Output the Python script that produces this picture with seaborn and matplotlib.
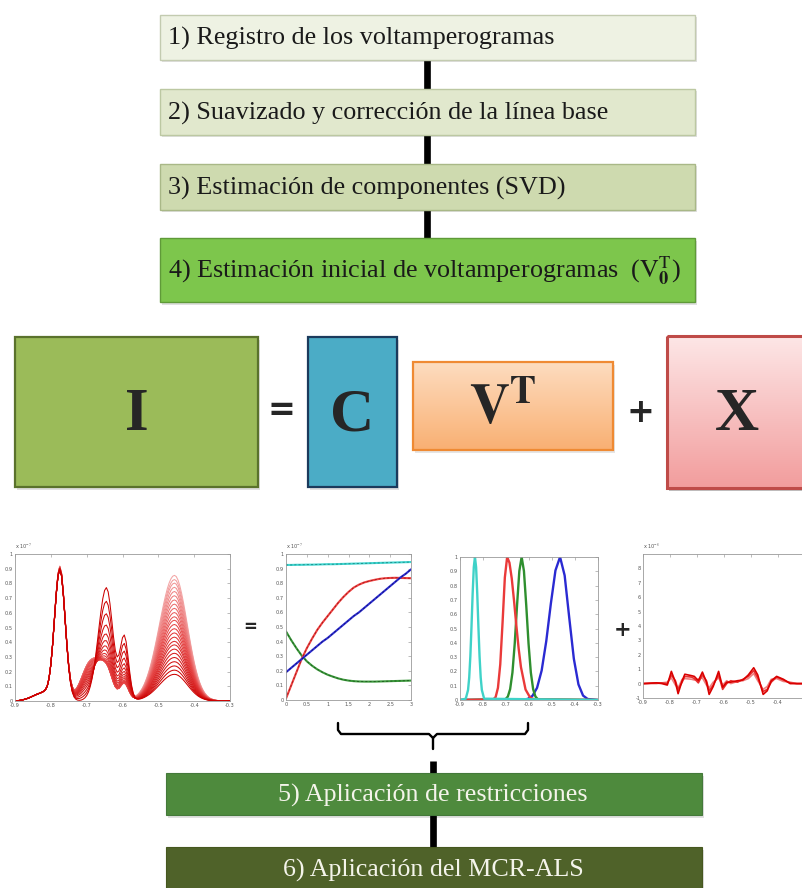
import numpy as np
import pandas as pd
import matplotlib
matplotlib.use("Agg")
import matplotlib.pyplot as plt
import seaborn as sns
from matplotlib.patches import Rectangle
from matplotlib.colors import to_rgb

sns.set_style("white")
plt.rcParams['font.family'] = ['Liberation Serif', 'DejaVu Serif']
plt.rcParams['mathtext.fontset'] = 'stix'

# ---------------- data ----------------
step_labels = ["1) Registro de los voltamperogramas",
               "2) Suavizado y corrección de la línea base",
               "3) Estimación de componentes (SVD)",
               "4) Estimación inicial de voltamperogramas  (" + r"$\mathrm{V}_{\mathbf{0}}^{\mathrm{T}}$" + ")"]
final_labels = ["5) Aplicación de restricciones", "6) Aplicación del MCR-ALS"]
eq_labels = ["I", "C", r"$\mathbf{V}^{\mathbf{T}}$", "X"]

# concentration profiles (matrix C)
times = [0.0, 0.125, 0.25, 0.375, 0.5, 0.625, 0.75, 0.875, 1.0, 1.125, 1.25, 1.375, 1.5,
         1.625, 1.75, 1.875, 2.0, 2.125, 2.25, 2.375, 2.5, 2.625, 2.75, 2.875, 3.0]
conc_cyan = [0.925, 0.925, 0.926, 0.926, 0.927, 0.927, 0.928, 0.929, 0.930, 0.930, 0.931, 0.932, 0.933,
             0.934, 0.935, 0.936, 0.937, 0.938, 0.939, 0.940, 0.941, 0.942, 0.943, 0.944, 0.945]
conc_red = [0.01, 0.10, 0.19, 0.28, 0.355, 0.42, 0.48, 0.53, 0.575, 0.62, 0.665, 0.705, 0.74,
            0.77, 0.79, 0.805, 0.815, 0.823, 0.83, 0.834, 0.836, 0.837, 0.836, 0.835, 0.834]
conc_blue = [0.19, 0.22, 0.25, 0.28, 0.31, 0.34, 0.37, 0.40, 0.425, 0.455, 0.485, 0.515, 0.545,
             0.575, 0.60, 0.63, 0.66, 0.69, 0.72, 0.75, 0.78, 0.81, 0.84, 0.865, 0.895]
conc_green = [0.47, 0.41, 0.355, 0.305, 0.265, 0.235, 0.21, 0.19, 0.173, 0.16, 0.148, 0.139, 0.133,
              0.129, 0.127, 0.126, 0.126, 0.126, 0.127, 0.128, 0.129, 0.13, 0.131, 0.132, 0.133]

# component voltammograms of the raw-data panel (potential grid -0.900 ... -0.300, step 0.005)
pot_grid = np.round(np.linspace(-0.9, -0.3, 121), 3)
sig_cyan = [0.0, 0.001, 0.003, 0.005, 0.008, 0.011, 0.015, 0.019, 0.024, 0.030, 0.036, 0.042, 0.048,
            0.053, 0.058, 0.064, 0.071, 0.083, 0.109, 0.166, 0.267, 0.414, 0.596, 0.780, 0.918, 0.970,
            0.918, 0.777, 0.588, 0.399, 0.242, 0.131, 0.064, 0.028, 0.011, 0.004, 0.001] + [0.0] * 84
sig_green = [0.0] * 34 + [0.001, 0.002, 0.005, 0.010, 0.021, 0.040, 0.072, 0.124, 0.202, 0.314, 0.463,
                          0.647, 0.860, 1.085, 1.300, 1.479, 1.598, 1.640, 1.579, 1.409, 1.172, 0.924,
                          0.730, 0.637, 0.669, 0.789, 0.916, 0.954, 0.859, 0.656, 0.423, 0.229, 0.105,
                          0.040, 0.013, 0.004, 0.001] + [0.0] * 50
sig_red = [0.0] * 25 + [0.001, 0.002, 0.003, 0.006, 0.010, 0.017, 0.027, 0.041, 0.059, 0.083, 0.113,
                        0.146, 0.182, 0.218, 0.250, 0.277, 0.294, 0.300, 0.294, 0.277, 0.250, 0.218,
                        0.182, 0.146, 0.113, 0.083, 0.059, 0.041, 0.027, 0.017, 0.010, 0.006, 0.003,
                        0.002, 0.001] + [0.0] * 61
sig_blue = [0.0] * 59 + [0.002, 0.002, 0.004, 0.005, 0.008, 0.011, 0.016, 0.022, 0.031, 0.042, 0.056,
                         0.074, 0.096, 0.123, 0.156, 0.194, 0.238, 0.288, 0.344, 0.405, 0.470, 0.538,
                         0.607, 0.675, 0.740, 0.800, 0.853, 0.896, 0.928, 0.948, 0.955, 0.946, 0.919,
                         0.876, 0.818, 0.750, 0.675, 0.595, 0.515, 0.437, 0.364, 0.297, 0.238, 0.187,
                         0.144, 0.109, 0.081, 0.059, 0.042, 0.029, 0.020, 0.014, 0.009, 0.006, 0.004,
                         0.002, 0.001, 0.0, 0.0, 0.0, 0.0, 0.0]

# estimated normalised voltammograms (matrix V^T)
vt_cyan_x = [-0.9, -0.875, -0.865, -0.86, -0.855, -0.85, -0.845, -0.84, -0.835, -0.83, -0.825, -0.82,
             -0.815, -0.81, -0.805, -0.795, -0.3]
vt_cyan_y = [0, 0.009, 0.07, 0.157, 0.306, 0.514, 0.744, 0.929, 1.0, 0.929, 0.744, 0.514, 0.306, 0.157,
             0.07, 0.009, 0]
vt_red_x = [-0.9, -0.755, -0.745, -0.735, -0.725, -0.715, -0.705, -0.695, -0.685, -0.675, -0.665, -0.655,
            -0.645, -0.635, -0.615, -0.595, -0.575, -0.3]
vt_red_y = [0, 0.004, 0.021, 0.085, 0.249, 0.54, 0.857, 1.0, 0.96, 0.85, 0.693, 0.52, 0.36, 0.23, 0.073,
            0.017, 0.003, 0]
vt_green_x = [-0.9, -0.702, -0.692, -0.682, -0.672, -0.662, -0.652, -0.642, -0.632, -0.622, -0.612, -0.602,
              -0.592, -0.582, -0.572, -0.562, -0.3]
vt_green_y = [0, 0.006, 0.024, 0.076, 0.192, 0.395, 0.662, 0.902, 1.0, 0.902, 0.662, 0.395, 0.192, 0.076,
              0.024, 0.006, 0]
vt_blue_x = [-0.9, -0.625, -0.605, -0.585, -0.565, -0.545, -0.525, -0.505, -0.485, -0.465, -0.445, -0.425,
             -0.405, -0.385, -0.365, -0.345, -0.3]
vt_blue_y = [0, 0.002, 0.008, 0.029, 0.085, 0.206, 0.411, 0.674, 0.906, 1.0, 0.871, 0.575, 0.288, 0.109,
             0.031, 0.007, 0]

# residuals (matrix X, x 1e-8)
res_x = [-0.90, -0.85, -0.83, -0.81, -0.795, -0.78, -0.77, -0.755, -0.745, -0.72, -0.71, -0.695, -0.68,
         -0.665, -0.655, -0.64, -0.62, -0.605, -0.59, -0.575, -0.55, -0.53, -0.51, -0.49, -0.475, -0.455,
         -0.44, -0.425, -0.405, -0.38, -0.355, -0.33, -0.30]
res_a = [0.0, 0.05, 0.0, -0.1, 0.85, 0.1, -0.7, 0.2, 0.65, 0.55, 0.5, 0.2, 0.8, 0.1, -0.75, -0.2, 0.85,
         -0.25, 0.1, 0.1, 0.2, 0.25, 0.6, 1.1, 0.6, -0.75, -0.5, 0.2, 0.5, 0.3, 0.0, 0.0, 0.0]
res_b = [0.0, 0.05, 0.05, 0.0, 0.6, 0.2, -0.4, 0.1, 0.5, 0.45, 0.35, 0.05, 0.6, 0.2, -0.5, -0.1, 0.6,
         -0.4, 0.0, 0.2, 0.1, 0.3, 0.5, 0.9, 0.4, -0.55, -0.4, 0.1, 0.45, 0.25, 0.05, 0.0, 0.0]
res_c = [0.0, 0.0, 0.05, 0.1, 0.4, -0.1, -0.3, 0.3, 0.35, 0.3, 0.25, 0.3, 0.4, -0.1, -0.3, 0.1, 0.4,
         -0.1, 0.2, 0.0, 0.15, 0.2, 0.35, 0.7, 0.2, -0.4, -0.2, 0.3, 0.35, 0.15, 0.1, 0.0, 0.0]

pot_ticks = [-0.9, -0.8, -0.7, -0.6, -0.5, -0.4, -0.3]
pot_ticklabels = ["-0.9", "-0.8", "-0.7", "-0.6", "-0.5", "-0.4", "-0.3"]
frac_ticks = [0, 0.1, 0.2, 0.3, 0.4, 0.5, 0.6, 0.7, 0.8, 0.9, 1.0]
frac_ticklabels = ["0", "0.1", "0.2", "0.3", "0.4", "0.5", "0.6", "0.7", "0.8", "0.9", "1"]
time_ticks = [0, 0.5, 1, 1.5, 2, 2.5, 3]
time_ticklabels = ["0", "0.5", "1", "1.5", "2", "2.5", "3"]
res_ticks = [-1, 0, 1, 2, 3, 4, 5, 6, 7, 8]

# ---------------- figure ----------------
W, H = 802, 888
fig = plt.figure(figsize=(W / 100, H / 100), dpi=100, facecolor='white')
ax0 = fig.add_axes([0, 0, 1, 1])
ax0.axis('off')
renderer = fig.canvas.get_renderer()


def box(x0, y0, x1, y1, fc, ec, lw=1.0, shadow=0.15, z=3):
    if shadow:
        ax0.add_patch(Rectangle((x0 + 2, y0 + 2.5), x1 - x0, y1 - y0, fc='black', alpha=shadow,
                                ec='none', zorder=z - 0.5))
    ax0.add_patch(Rectangle((x0, y0), x1 - x0, y1 - y0, fc=fc, ec=ec, lw=lw, zorder=z))


def grad_box(x0, y0, x1, y1, c_top, c_bot, ec, lw, shadow=0.15, z=3):
    if shadow:
        ax0.add_patch(Rectangle((x0 + 2, y0 + 3), x1 - x0, y1 - y0, fc='black', alpha=shadow,
                                ec='none', zorder=z - 0.5))
    t = np.linspace(0, 1, 64)[:, None, None]
    img = np.array(to_rgb(c_top))[None, None, :] * (1 - t) + np.array(to_rgb(c_bot))[None, None, :] * t
    img = np.repeat(img, 2, axis=1)
    ax0.imshow(img, extent=[x0, x1, y1, y0], aspect='auto', zorder=z, interpolation='bilinear')
    ax0.add_patch(Rectangle((x0, y0), x1 - x0, y1 - y0, fill=False, ec=ec, lw=lw, zorder=z + 0.1))


def fit_size(txt, target_w, base=16, **kw):
    t = ax0.text(0, 0, txt, fontsize=base, **kw)
    w = t.get_window_extent(renderer).width
    t.remove()
    return base * target_w / w


# connectors (top)
for ya, yb in [(60, 89), (135, 164), (210, 238)]:
    ax0.plot([427, 427], [ya, yb], color='black', lw=4.8, solid_capstyle='butt', zorder=1)

step_y = [(15, 60), (89, 135), (164, 210), (238, 302)]
step_fc = ['#eef2e3', '#e1e8cd', '#cedaaf', '#7dc64c']
step_ec = ['#c3cbb0', '#bcc8a2', '#a9b887', '#5f9a38']
fs_step = fit_size(step_labels[1], 442)
for (ya, yb), lab, fc, ec in zip(step_y, step_labels, step_fc, step_ec):
    box(160, ya, 695, yb, fc, ec, lw=1.0, shadow=0.12)
    ax0.text(168, (ya + yb) / 2 + 1, lab, fontsize=fs_step, color='#1a1a1a', va='center', ha='left', zorder=5)

# equation row
box(15, 337, 258, 487, '#9bbb59', '#5a722c', lw=1.6, shadow=0.12)
box(308, 337, 397, 487, '#4bacc6', '#1b3a5c', lw=1.6, shadow=0.12)
grad_box(413, 362, 613, 450, '#fddcbf', '#f9b073', '#ef8a33', 1.6, shadow=0.10)
grad_box(667, 336, 815, 488, '#fde6e6', '#f29d9d', '#bf4b48', 2.2, shadow=0.25)

eq_fs = 44
ax0.text(136.5, 415, eq_labels[0], fontsize=eq_fs, fontweight='bold', ha='center', va='center', zorder=6)
ax0.text(352.5, 415, eq_labels[1], fontsize=eq_fs, fontweight='bold', ha='center', va='center', zorder=6)
ax0.text(503, 410, eq_labels[2], fontsize=40, ha='center', va='center', zorder=6)
ax0.text(737, 415, eq_labels[3], fontsize=eq_fs, fontweight='bold', ha='center', va='center', zorder=6)
ax0.text(281, 410, "=", fontsize=24, fontweight='bold', family='DejaVu Sans', ha='center', va='center', zorder=6)
ax0.text(640, 412, "+", fontsize=24, fontweight='bold', family='DejaVu Sans', ha='center', va='center', zorder=6)

# symbols between small plots
ax0.text(250, 627, "=", fontsize=12, fontweight='bold', family='DejaVu Sans', ha='center', va='center', zorder=6)
ax0.text(623, 630, "+", fontsize=15, fontweight='bold', family='DejaVu Sans', ha='center', va='center', zorder=6)

# brace
bk = dict(color='black', lw=1.7, solid_capstyle='round', solid_joinstyle='round', zorder=4)
ax0.plot([338, 338, 341, 429, 433, 433], [723, 730, 734, 734, 738, 749], **bk)
ax0.plot([528, 528, 525, 437, 433], [723, 730, 734, 734, 738], **bk)
ax0.plot([433, 433], [761, 773], color='black', lw=4.8, solid_capstyle='butt', zorder=1)
ax0.plot([433, 433], [815, 847], color='black', lw=4.8, solid_capstyle='butt', zorder=1)

fs_fin = fit_size(final_labels[0], 310)
box(166, 773, 702, 815, '#4e8a3d', '#44793a', lw=0.8, shadow=0.12)
box(166, 847, 702, 900, '#4f6229', '#46571f', lw=0.8, shadow=0.12)
ax0.text(433, 795, final_labels[0], fontsize=fs_fin, color='#f4f4ea', ha='center', va='center', zorder=6)
ax0.text(433, 870, final_labels[1], fontsize=fs_fin, color='#f4f4ea', ha='center', va='center', zorder=6)

ax0.set_xlim(0, W)
ax0.set_ylim(H, 0)


# ---------------- small plots ----------------
def px_axes(l, t, r, b):
    return fig.add_axes([l / W, 1 - b / H, (r - l) / W, (b - t) / H])


def style(ax, xt, xtl, yt, ytl, mult):
    ax.set_facecolor('white')
    for s in ax.spines.values():
        s.set_color('#9a9a9a')
        s.set_linewidth(0.6)
    ax.set_xticks(xt)
    ax.set_xticklabels(xtl)
    ax.set_yticks(yt)
    ax.set_yticklabels(ytl)
    ax.tick_params(direction='in', length=2, width=0.4, labelsize=3.6, colors='#8a8a8a',
                   labelcolor='#555555', top=True, right=True, pad=1.5)
    for lab in ax.get_xticklabels() + ax.get_yticklabels():
        lab.set_family('DejaVu Sans')
    ax.set_xlabel('')
    ax.set_ylabel('')
    if mult:
        ax.text(0.0, 1.012, mult, transform=ax.transAxes, fontsize=3.6, color='#555555',
                family='DejaVu Sans', va='bottom')


# panel 1: raw voltammograms I = C V^T
Cmat = np.column_stack([conc_cyan, conc_green, conc_red, conc_blue])
Smat = np.vstack([sig_cyan, sig_green, sig_red, sig_blue])
Imat = Cmat @ Smat
df1 = pd.DataFrame({'E': np.tile(pot_grid, len(times)),
                    'I': Imat.ravel(),
                    't': np.repeat(times, len(pot_grid))})
pal_list = sns.blend_palette(['#cc0000', '#e64545', '#f3a5a5'], n_colors=len(times))
pal = {t: c for t, c in zip(times, pal_list)}
ax1 = px_axes(15, 554, 230, 701)
sns.lineplot(data=df1, x='E', y='I', hue='t', palette=pal, hue_order=times[::-1], legend=False,
             estimator=None, sort=False, lw=0.75, ax=ax1)
ax1.set_xlim(-0.9, -0.3)
ax1.set_ylim(0, 1)
style(ax1, pot_ticks, pot_ticklabels, frac_ticks, frac_ticklabels, r"x 10$^{-7}$")

# panel 2: concentration profiles C
ax2 = px_axes(286, 554, 411, 700)
for vals, c, dc in [(conc_green, '#3c9a3c', '#1e5a1e'), (conc_red, '#ee4040', '#a01818'),
                    (conc_blue, '#2c2cd0', '#10107a'), (conc_cyan, '#40d6d0', '#1a8a86')]:
    sns.lineplot(x=times, y=vals, color=c, lw=1.5, ax=ax2, estimator=None, sort=False)
    sns.lineplot(x=times, y=vals, color=dc, lw=0.6, ax=ax2, estimator=None, sort=False,
                 linestyle=(0, (2.5, 2.5)))
ax2.set_xlim(0, 3)
ax2.set_ylim(0, 1)
style(ax2, time_ticks, time_ticklabels, frac_ticks, frac_ticklabels, r"x 10$^{-7}$")

# panel 3: normalised voltammograms V^T
ax3 = px_axes(460, 557, 598, 700)
for xs, ys, c in [(vt_blue_x, vt_blue_y, '#2a2ad2'), (vt_green_x, vt_green_y, '#2f8f2f'),
                  (vt_red_x, vt_red_y, '#ea3a3a'), (vt_cyan_x, vt_cyan_y, '#3fd2c8')]:
    sns.lineplot(x=xs, y=ys, color=c, lw=1.7, ax=ax3, estimator=None, sort=False)
ax3.set_xlim(-0.9, -0.3)
ax3.set_ylim(0, 1)
style(ax3, pot_ticks, pot_ticklabels, frac_ticks, frac_ticklabels, "")

# panel 4: residuals X (the panel runs past the right edge, as in the source)
ax4 = px_axes(643, 554, 805, 698)
for ys, c in [(res_c, '#f08080'), (res_b, '#e83030'), (res_a, '#d90000')]:
    sns.lineplot(x=res_x, y=ys, color=c, lw=1.2, ax=ax4, estimator=None, sort=False)
ax4.set_xlim(-0.9, -0.3)
ax4.set_ylim(-1, 9)
style(ax4, pot_ticks[:-1], pot_ticklabels[:-1], res_ticks, [str(v) for v in res_ticks], r"x 10$^{-8}$")

fig.savefig('out.png', dpi=100, facecolor='white')
